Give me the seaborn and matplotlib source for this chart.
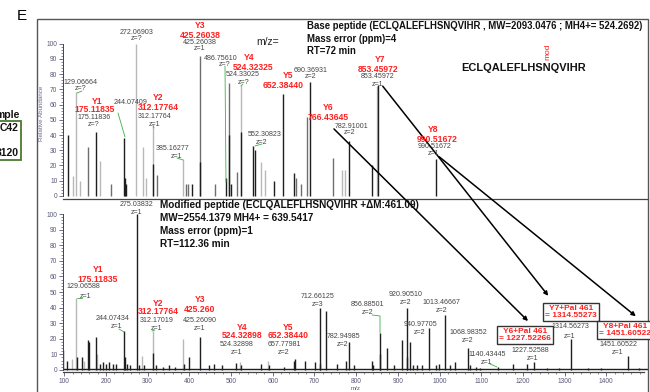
import matplotlib.pyplot as plt
import seaborn as sns
from matplotlib.patches import Rectangle, FancyArrowPatch
from matplotlib.lines import Line2D

# base peptide spectrum (top): m/z, relative abundance, trace tone
base_mz = [109, 120, 129.07, 137, 157, 175.12, 186, 213, 244.07, 246, 248, 272.07, 288, 297,
           312.18, 312.5, 322, 385.16, 392, 397, 407, 425.26, 426, 461, 486.76, 495, 496, 500,
           515, 524.33, 525, 552.31, 558, 572, 581, 603, 624, 651, 657, 668, 681, 690.37, 744,
           766.44, 773, 782.91, 837, 851, 853.46, 990.52]
base_int = [40, 13, 68, 10, 32, 42, 23, 8, 38, 12, 8, 100, 32, 12,
            47, 21, 14, 24, 8, 8, 8, 92, 22, 8, 12, 74, 40, 8,
            16, 73, 42, 33, 30, 22, 17, 10, 67, 15, 12, 8, 52, 75, 25,
            17, 17, 36, 20, 72, 73, 24]
base_tone = ["d", "l", "l", "l", "m", "d", "l", "m", "d", "d", "d", "l", "l", "l",
             "l", "d", "m", "l", "m", "m", "d", "m", "d", "m", "d", "m", "d", "d",
             "m", "l", "d", "d", "d", "l", "l", "d", "d", "d", "m", "m", "m", "d", "m",
             "l", "l", "d", "d", "l", "d", "d"]

# modified peptide spectrum (bottom)
mod_mz = [98, 106, 119, 129.07, 130, 143, 147, 157, 159, 175.12, 179, 186, 193, 201, 208, 216,
          224, 244.07, 245, 251, 258, 275.04, 279, 287, 292, 312.17, 312.5, 321, 336, 351, 366,
          385, 388, 399, 425.26, 446, 460, 479, 511, 521, 524.33, 571, 588, 591, 626, 650, 653,
          677, 701, 712.66, 714, 727, 753, 775, 783, 796, 837, 841, 856.89, 858, 874, 891, 910,
          920.91, 922, 930, 936, 946, 959, 975, 991, 999, 1013.47, 1026, 1038, 1068.98, 1074,
          1088, 1096, 1140.43, 1176, 1209, 1227.53, 1258, 1286, 1316, 1356, 1388, 1451.61, 1479]
mod_int = [13, 6, 7, 46, 8, 8, 6, 19, 18, 21, 10, 4, 5, 4, 5, 4,
           4, 25, 8, 4, 3, 100, 3, 9, 3, 25, 11, 3, 2, 3, 2,
           20, 4, 8, 21, 3, 4, 3, 4.5, 5, 3, 4, 6, 3, 2, 6, 7,
           6, 5, 40, 4, 38, 4, 6, 18, 3, 6, 3, 24, 10, 14, 3, 19,
           40, 8, 18, 3, 3, 3, 27, 3, 4, 35, 3, 5, 14, 3,
           2, 1.5, 2, 4, 4, 5, 1.5, 1.5, 20, 1.5, 1.5, 9, 1.5]
mod_tone = ["d", "d", "l", "l", "d", "d", "l", "d", "d", "d", "l", "d", "d", "d", "d", "d",
            "d", "d", "d", "d", "d", "d", "d", "l", "d", "l", "d", "d", "d", "d", "d",
            "l", "d", "d", "d", "d", "d", "d", "d", "l", "d", "d", "l", "d", "d", "d", "d",
            "d", "d", "d", "d", "d", "d", "d", "d", "d", "d", "d", "d", "d", "d", "d", "d",
            "d", "d", "d", "d", "d", "d", "d", "d", "d", "d", "d", "d", "d", "d",
            "d", "d", "d", "d", "d", "d", "d", "d", "d", "d", "d", "d", "d"]

tone_colors = {"d": "#1e1e1e", "m": "#6e6e6e", "l": "#b8b8b8"}

# peak annotations (text, x px, y px)
base_grey_labels = [("129.06664", 81, 82), ("z=?", 81, 89), ("175.11836", 94, 117), ("z=?", 94, 125),
                    ("244.07409", 131, 103), ("272.06903", 137, 32), ("z=?", 137, 39),
                    ("312.17764", 155, 116), ("z=1", 155, 124), ("385.16277", 173, 148), ("z=1", 177, 156),
                    ("425.26038", 200, 42), ("z=1", 200, 49), ("486.75610", 221, 58), ("z=?", 225, 65),
                    ("524.33025", 243, 74), ("z=?", 244, 82), ("552.30823", 265, 134), ("z=2", 262, 142),
                    ("690.36931", 311, 70), ("z=2", 311, 77), ("782.91001", 352, 126), ("z=2", 350, 133),
                    ("853.45972", 378, 77), ("z=1", 378, 84), ("990.51672", 435, 146), ("z=1", 434, 153)]
base_red_labels = [("Y1", 97, 101), ("175.11835", 95, 110), ("Y2", 158, 98), ("312.17764", 158, 108),
                   ("Y3", 200, 25), ("425.26038", 200, 35), ("Y4", 249, 58), ("524.32325", 253, 68),
                   ("Y5", 288, 76), ("652.38440", 283, 86), ("Y6", 328, 108), ("766.43645", 328, 118),
                   ("Y7", 380, 59), ("853.45972", 378, 69), ("Y8", 433, 129), ("990.51672", 437, 139)]
mod_grey_labels = [("275.03832", 137, 204), ("z=1", 137, 212), ("129.06588", 83, 287), ("z=1", 86, 296),
                   ("244.07434", 113, 319), ("z=1", 117, 327), ("312.17019", 157, 320), ("z=1", 157, 328),
                   ("425.26090", 200, 320), ("z=1", 200, 328), ("524.32898", 237, 344), ("z=1", 237, 352),
                   ("657.77981", 284, 344), ("z=2", 284, 352), ("712.66125", 318, 296), ("z=3", 318, 304),
                   ("782.94985", 343, 337), ("z=2", 343, 344), ("856.88501", 368, 305), ("z=2", 368, 313),
                   ("920.90510", 406, 295), ("z=2", 406, 303), ("940.97705", 420, 324), ("z=2", 420, 332),
                   ("1013.46667", 441, 303), ("z=2", 442, 311), ("1068.98352", 468, 333), ("z=2", 468, 340),
                   ("1140.43445", 487, 354), ("z=1", 487, 362), ("1227.52588", 530, 351), ("z=1", 533, 358),
                   ("1314.56273", 570, 327), ("z=1", 570, 336), ("1451.60522", 618, 345), ("z=1", 618, 352)]
mod_red_labels = [("Y1", 98, 270), ("175.11835", 98, 280), ("Y2", 158, 303), ("312.17764", 158, 312),
                  ("Y3", 200, 300), ("425.260", 200, 310), ("Y4", 242, 327), ("524.32898", 242, 336),
                  ("Y5", 288, 327), ("652.38440", 288, 336)]
pal_boxes = [("Y6+Pal 461\n= 1227.52266", 525, 335), ("Y7+Pal 461\n= 1314.55273", 571, 312),
             ("Y8+Pal 461\n= 1451.60522", 625, 330)]
green_leaders = [[(82, 91), (77, 93)], [(118, 113), (125, 137)], [(153, 126), (154, 128)],
                 [(177, 158), (183, 160)], [(225, 66), (226, 182)], [(243, 84), (241, 86)],
                 [(262, 144), (255, 146)], [(82, 298), (77, 298)], [(119, 329), (124, 332)],
                 [(155, 330), (152, 331)], [(372, 315), (380, 316), (380, 333)],
                 [(490, 364), (497, 367)]]
arrows = [((332, 127), (530, 323)), ((381, 84), (550, 298)), ((437, 155), (638, 318))]

W, H = 650, 392

sns.set_theme(style="ticks")
plt.rcParams["font.family"] = ["Liberation Sans", "DejaVu Sans"]

fig = plt.figure(figsize=(W / 100, H / 100), dpi=100)


def fx(x):
    return x / W


def fy(y):
    return 1 - y / H


def txt(s, x, y, **kw):
    fig.text(fx(x), fy(y), s, ha="center", va="center", **kw)


tick_col = "#5a5a78"
ax_top = fig.add_axes([fx(63), fy(199), fx(648) - fx(63), (199 - 28.4) / H])
ax_bot = fig.add_axes([fx(63), fy(372), fx(648) - fx(63), (372 - 207.8) / H])

for ax, mz, inten, tone in [(ax_top, base_mz, base_int, base_tone), (ax_bot, mod_mz, mod_int, mod_tone)]:
    for t in ["l", "m", "d"]:
        xs = [m for m, tt in zip(mz, tone) if tt == t]
        ys = [v for v, tt in zip(inten, tone) if tt == t]
        ax.vlines(xs, 0, ys, color=tone_colors[t], lw=1.0)
    ax.set_xlim(97, 1500)
    ax.set_facecolor("none")
    ax.set_yticks(range(0, 101, 10))
    ax.set_yticks(range(0, 101, 2), minor=True)
    ax.tick_params(axis="both", which="major", labelsize=4.8, colors=tick_col, length=3, width=0.6, pad=1)
    ax.tick_params(axis="both", which="minor", colors=tick_col, length=1.5, width=0.5)
    sns.despine(ax=ax)
    ax.spines["left"].set_bounds(0, 100)
    ax.spines["left"].set_color("#444")
    ax.spines["bottom"].set_color("#444")
    ax.spines["left"].set_linewidth(0.7)
    ax.spines["bottom"].set_linewidth(0.9)

ax_top.set_ylim(-2, 110)
ax_top.set_xticks([])
ax_top.set_xticks([], minor=True)
ax_top.set_ylabel("Relative Abundance", fontsize=4.5, color="#6a6a9a", labelpad=2)

ax_bot.set_ylim(-1.3, 104)
ax_bot.axhline(0.4, color="#1e1e1e", lw=1.0)
ax_bot.set_xticks(range(100, 1401, 100))
ax_bot.set_xticks(range(100, 1481, 20), minor=True)
ax_bot.spines["bottom"].set_bounds(97, 1490)
ax_bot.set_xlabel("m/z", fontsize=4.5, color=tick_col, labelpad=1)

# peak labels
for s, x, y in base_grey_labels + mod_grey_labels:
    txt(s, x, y, fontsize=5.1, color="#444444")
for s, x, y in base_red_labels + mod_red_labels:
    txt(s, x, y, fontsize=6.2, color="#ff2020", fontweight="bold")
for s, x, y in pal_boxes:
    txt(s, x, y, fontsize=6.0, color="#ff2020", fontweight="bold", linespacing=1.15,
        bbox=dict(boxstyle="square,pad=0.2", fc="white", ec="#333333", lw=1.0))

for pts in green_leaders:
    fig.add_artist(Line2D([fx(p[0]) for p in pts], [fy(p[1]) for p in pts],
                          color="#3cb043", lw=0.6, transform=fig.transFigure))

for a, b in arrows:
    fig.add_artist(FancyArrowPatch((fx(a[0]), fy(a[1])), (fx(b[0]), fy(b[1])),
                                   transform=fig.transFigure, arrowstyle="-|>",
                                   mutation_scale=6, lw=1.1, color="black"))

# header texts
txt("E", 22, 16, fontsize=11, color="black")
txt("m/z=", 268, 42, fontsize=7.5, color="#222")
hdr = dict(fontweight="bold", color="#111", ha="left", va="center")
fig.text(fx(307), fy(26), "Base peptide (ECLQALEFLHSNQVIHR , MW=2093.0476 ; MH4+= 524.2692)", fontsize=6.9, **hdr)
fig.text(fx(307), fy(39), "Mass error (ppm)=4", fontsize=6.9, **hdr)
fig.text(fx(307), fy(51), "RT=72 min", fontsize=6.9, **hdr)
txt("ECLQALEFLHSNQVIHR", 524, 68, fontsize=7.9, fontweight="bold", color="#111")
txt("mod", 548, 52, fontsize=6, color="#ff2020", rotation=90)

fig.text(fx(160), fy(205), "Modified peptide (ECLQALEFLHSNQVIHR +\u0394M:461.09)", fontsize=7.2, **hdr)
fig.text(fx(160), fy(218), "MW=2554.1379 MH4+ = 639.5417", fontsize=7.2, **hdr)
fig.text(fx(160), fy(231), "Mass error (ppm)=1", fontsize=7.2, **hdr)
fig.text(fx(160), fy(244), "RT=112.36 min", fontsize=7.2, **hdr)

# neighbouring panel fragment on the left
side = dict(fontsize=7.5, fontweight="bold", color="#111", ha="right", va="center")
fig.text(fx(20), fy(115), "mple", **side)
fig.text(fx(19), fy(128), "C42", **side)
fig.text(fx(19), fy(153), "3120", **side)
fig.add_artist(Rectangle((fx(-5), fy(160)), fx(26.5), 39 / H, transform=fig.transFigure,
                         fill=False, ec="#4b7b2e", lw=1.3))

# outer frame
fig.add_artist(Rectangle((fx(37), fy(400)), fx(648) - fx(37), 381 / H, transform=fig.transFigure,
                         fill=False, ec="#555555", lw=1.0))

fig.savefig("out.png", dpi=100)
